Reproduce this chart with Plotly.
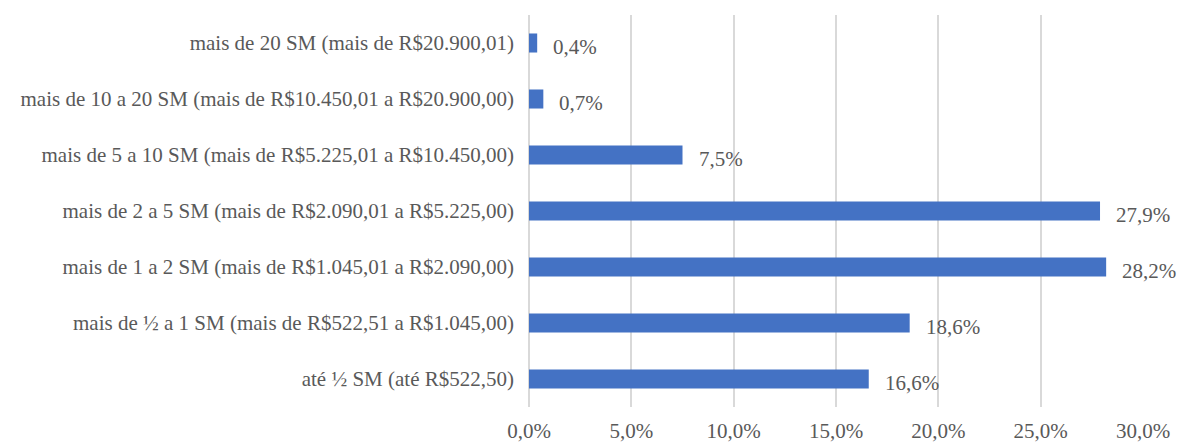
import plotly.graph_objects as go

categories = [
    "até ½ SM (até R$522,50)",
    "mais de ½ a 1 SM (mais de R$522,51 a R$1.045,00)",
    "mais de 1 a 2 SM (mais de R$1.045,01 a R$2.090,00)",
    "mais de 2 a 5 SM (mais de R$2.090,01 a R$5.225,00)",
    "mais de 5 a 10 SM (mais de R$5.225,01 a R$10.450,00)",
    "mais de 10 a 20 SM (mais de R$10.450,01 a R$20.900,00)",
    "mais de 20 SM (mais de R$20.900,01)",
]
values_pct = [16.6, 18.6, 28.2, 27.9, 7.5, 0.7, 0.4]
tick_vals_pct = [0, 5, 10, 15, 20, 25, 30]

values = [v / 100 for v in values_pct]
tick_vals = [v / 100 for v in tick_vals_pct]

FONT = "Times New Roman"
TXT = "#595959"
FS = 21

fig = go.Figure()
fig.add_trace(go.Bar(
    y=categories,
    x=values,
    orientation="h",
    marker=dict(color="#4472C4", line=dict(width=0)),
    width=0.34,
    hoverinfo="skip",
))

for c, v in zip(categories, values):
    fig.add_annotation(
        x=v, y=c, text=f"{v*100:.1f}%".replace(".", ","),
        xanchor="left", yanchor="middle", xshift=14, yshift=-4,
        showarrow=False, font=dict(family=FONT, size=FS, color=TXT),
    )

fig.update_layout(
    width=1182, height=444,
    margin=dict(l=529, r=39, t=15, b=37),
    paper_bgcolor="white", plot_bgcolor="white",
    separators=",.",
    showlegend=False,
    font=dict(family=FONT, size=FS, color=TXT),
    xaxis=dict(
        range=[0, 0.30],
        tickvals=tick_vals,
        tickformat=".1%",
        showgrid=True, gridcolor="#D9D9D9", gridwidth=1.5,
        zeroline=True, zerolinecolor="#D9D9D9", zerolinewidth=1.5,
        showline=False, ticks="", ticklabelstandoff=9,
        tickfont=dict(family=FONT, size=FS, color=TXT),
        automargin=False,
        fixedrange=True,
    ),
    yaxis=dict(
        categoryorder="array", categoryarray=categories,
        showgrid=False, showline=False, ticks="",
        ticklabelstandoff=14,
        tickfont=dict(family=FONT, size=FS, color=TXT),
        automargin=False,
        fixedrange=True,
    ),
)

fig.write_html("out.html", post_script="document.body.style.margin='0';",
               config={"displayModeBar": False})
